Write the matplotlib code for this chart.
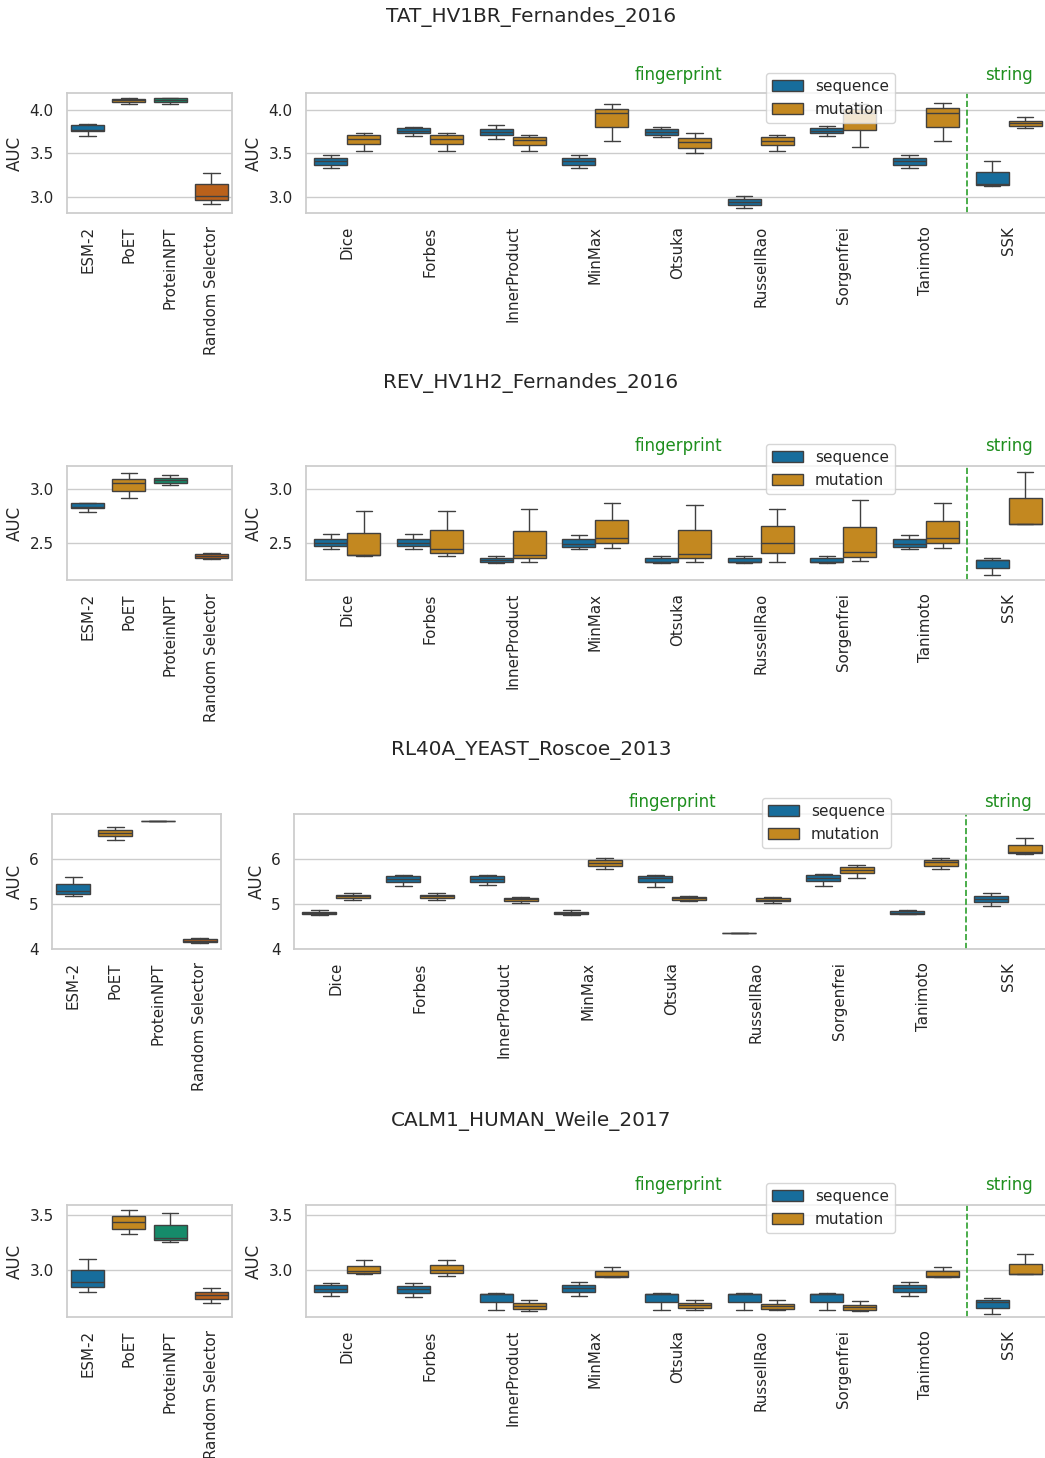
import matplotlib
matplotlib.use('Agg')
import matplotlib.pyplot as plt
import matplotlib.transforms as mtransforms
from matplotlib.patches import Patch
import seaborn as sns

# ---------------------------------------------------------------- data
# every box is [whisker low, q1, median, q3, whisker high]
baselines = ["ESM-2", "PoET", "ProteinNPT", "Random Selector"]
metrics = ["Dice", "Forbes", "InnerProduct", "MinMax", "Otsuka",
           "RussellRao", "Sorgenfrei", "Tanimoto", "SSK"]
titles = ["TAT_HV1BR_Fernandes_2016", "REV_HV1H2_Fernandes_2016",
          "RL40A_YEAST_Roscoe_2013", "CALM1_HUMAN_Weile_2017"]

tat_base = [[3.704, 3.762, 3.770, 3.831, 3.835],
            [4.069, 4.088, 4.110, 4.131, 4.135],
            [4.065, 4.088, 4.115, 4.135, 4.142],
            [2.915, 2.962, 3.004, 3.142, 3.277]]
tat_seq = [[3.331, 3.365, 3.408, 3.450, 3.485],
           [3.696, 3.731, 3.762, 3.788, 3.808],
           [3.669, 3.708, 3.750, 3.785, 3.827],
           [3.331, 3.365, 3.408, 3.450, 3.485],
           [3.685, 3.715, 3.750, 3.777, 3.800],
           [2.869, 2.900, 2.942, 2.977, 3.004],
           [3.700, 3.731, 3.762, 3.788, 3.812],
           [3.331, 3.365, 3.408, 3.450, 3.485],
           [3.127, 3.135, 3.142, 3.281, 3.415]]
tat_mut = [[3.527, 3.604, 3.669, 3.708, 3.738],
           [3.527, 3.604, 3.669, 3.708, 3.738],
           [3.527, 3.592, 3.658, 3.688, 3.715],
           [3.646, 3.800, 3.962, 4.015, 4.073],
           [3.508, 3.565, 3.627, 3.681, 3.738],
           [3.527, 3.596, 3.646, 3.692, 3.715],
           [3.569, 3.765, 3.960, 4.015, 4.073],
           [3.646, 3.800, 3.965, 4.019, 4.077],
           [3.792, 3.812, 3.846, 3.877, 3.915]]

rev_base = [[2.788, 2.825, 2.830, 2.868, 2.871],
            [2.914, 2.982, 3.049, 3.092, 3.144],
            [3.037, 3.055, 3.077, 3.101, 3.126],
            [2.350, 2.362, 2.377, 2.396, 2.411]]
rev_seq = [[2.445, 2.469, 2.500, 2.540, 2.583],
           [2.445, 2.469, 2.500, 2.540, 2.583],
           [2.316, 2.328, 2.340, 2.362, 2.383],
           [2.442, 2.463, 2.494, 2.534, 2.577],
           [2.319, 2.325, 2.330, 2.365, 2.383],
           [2.319, 2.325, 2.330, 2.365, 2.383],
           [2.319, 2.325, 2.330, 2.365, 2.383],
           [2.445, 2.463, 2.494, 2.534, 2.577],
           [2.206, 2.270, 2.340, 2.347, 2.362]]
rev_mut = [[2.385, 2.387, 2.390, 2.595, 2.798],
           [2.383, 2.411, 2.448, 2.623, 2.798],
           [2.328, 2.359, 2.393, 2.607, 2.816],
           [2.454, 2.500, 2.549, 2.709, 2.868],
           [2.325, 2.362, 2.402, 2.623, 2.850],
           [2.325, 2.411, 2.497, 2.656, 2.816],
           [2.334, 2.371, 2.414, 2.650, 2.896],
           [2.454, 2.500, 2.549, 2.706, 2.868],
           [2.675, 2.675, 2.675, 2.917, 3.156]]

rl40_base = [[5.170, 5.222, 5.289, 5.437, 5.593],
             [6.422, 6.496, 6.570, 6.637, 6.696],
             [6.830, 6.830, 6.830, 6.830, 6.830],
             [4.126, 4.148, 4.178, 4.215, 4.244]]
rl40_seq = [[4.748, 4.763, 4.793, 4.822, 4.852],
            [5.385, 5.481, 5.556, 5.615, 5.637],
            [5.407, 5.481, 5.548, 5.607, 5.644],
            [4.748, 4.763, 4.793, 4.822, 4.852],
            [5.378, 5.481, 5.560, 5.615, 5.637],
            [4.341, 4.341, 4.341, 4.341, 4.341],
            [5.400, 5.496, 5.563, 5.630, 5.659],
            [4.763, 4.770, 4.800, 4.830, 4.859],
            [4.956, 5.030, 5.104, 5.178, 5.237]]
rl40_mut = [[5.089, 5.119, 5.163, 5.200, 5.230],
            [5.089, 5.119, 5.163, 5.200, 5.230],
            [5.015, 5.059, 5.096, 5.126, 5.140],
            [5.778, 5.844, 5.904, 5.970, 6.015],
            [5.059, 5.089, 5.119, 5.148, 5.163],
            [5.015, 5.052, 5.089, 5.126, 5.148],
            [5.578, 5.674, 5.756, 5.822, 5.859],
            [5.778, 5.844, 5.919, 5.978, 6.015],
            [6.111, 6.133, 6.148, 6.304, 6.459]]

calm_base = [[2.805, 2.847, 2.892, 3.003, 3.105],
             [3.326, 3.377, 3.434, 3.488, 3.542],
             [3.260, 3.275, 3.296, 3.410, 3.518],
             [2.704, 2.740, 2.775, 2.808, 2.844]]
calm_seq = [[2.772, 2.802, 2.835, 2.865, 2.889],
            [2.763, 2.793, 2.829, 2.862, 2.889],
            [2.644, 2.713, 2.787, 2.790, 2.799],
            [2.772, 2.802, 2.838, 2.865, 2.892],
            [2.644, 2.713, 2.787, 2.790, 2.799],
            [2.644, 2.713, 2.787, 2.790, 2.799],
            [2.644, 2.713, 2.787, 2.790, 2.799],
            [2.769, 2.802, 2.844, 2.868, 2.892],
            [2.602, 2.659, 2.713, 2.734, 2.754]]
calm_mut = [[2.967, 2.976, 2.994, 3.042, 3.096],
            [2.949, 2.973, 3.003, 3.045, 3.096],
            [2.635, 2.650, 2.674, 2.701, 2.731],
            [2.940, 2.943, 2.949, 2.994, 3.033],
            [2.641, 2.659, 2.683, 2.704, 2.728],
            [2.641, 2.650, 2.674, 2.698, 2.734],
            [2.632, 2.641, 2.665, 2.689, 2.725],
            [2.940, 2.943, 2.952, 2.994, 3.033],
            [2.964, 2.964, 2.967, 3.057, 3.150]]

base_data = [tat_base, rev_base, rl40_base, calm_base]
seq_data = [tat_seq, rev_seq, rl40_seq, calm_seq]
mut_data = [tat_mut, rev_mut, rl40_mut, calm_mut]

y_limits = [(2.81, 4.196), (2.16, 3.209), (3.99, 6.99), (2.578, 3.59)]
y_ticks = [[3.0, 3.5, 4.0], [2.5, 3.0], [4, 5, 6], [3.0, 3.5]]

# ---------------------------------------------------------------- layout (pixels)
W, H = 1045, 1458
row_top = [93, 466, 814, 1205]
row_bot = [213, 580, 949, 1317]
left_x0 = [67, 67, 52, 67]
left_x1 = [232, 232, 221, 232]
right_x0 = [306, 306, 294, 306]
right_x1 = 1050
title_y = [17, 383, 750, 1121]
group_y = [75, 446, 802, 1185]
legend_xy = [(766, 73), (766, 444), (762, 798), (766, 1183)]


def px_rect(x0, y0, x1, y1):
    return [x0 / W, 1 - y1 / H, (x1 - x0) / W, (y1 - y0) / H]


sns.set_theme(style="whitegrid")
plt.rcParams['font.family'] = ['DejaVu Sans']
plt.rcParams['xtick.labelsize'] = 10.8
pal = sns.color_palette("colorblind")
c_blue, c_orange, c_green, c_red = [sns.desaturate(c, 0.75) for c in pal[:4]]
base_colors = [c_blue, c_orange, c_green, c_red]
lc = (0.25, 0.25, 0.25)
grp_color = "#1f8f1f"

fig = plt.figure(figsize=(W / 100, H / 100), dpi=100)


def draw_boxes(ax, boxes, positions, width, colors):
    stats = [dict(whislo=b[0], q1=b[1], med=b[2], q3=b[3], whishi=b[4], fliers=[])
             for b in boxes]
    art = ax.bxp(stats, positions=positions, widths=width, capwidths=width / 2,
                 patch_artist=True, showfliers=False, manage_ticks=False,
                 boxprops=dict(edgecolor=lc, linewidth=1.0),
                 medianprops=dict(color=lc, linewidth=1.0),
                 whiskerprops=dict(color=lc, linewidth=1.0),
                 capprops=dict(color=lc, linewidth=1.0))
    for patch, col in zip(art["boxes"], colors):
        patch.set_facecolor(col)


for r in range(4):
    # baselines on the left
    axl = fig.add_axes(px_rect(left_x0[r], row_top[r], left_x1[r], row_bot[r]))
    draw_boxes(axl, base_data[r], list(range(len(baselines))), 0.8, base_colors)
    axl.set_xlim(-0.5, len(baselines) - 0.5)
    axl.set_xticks(range(len(baselines)))
    axl.set_xticklabels(baselines, rotation=90)
    axl.set_ylim(*y_limits[r])
    axl.set_yticks(y_ticks[r])
    axl.set_ylabel("AUC")
    axl.xaxis.grid(False)

    # similarity metrics on the right
    axr = fig.add_axes(px_rect(right_x0[r], row_top[r], right_x1, row_bot[r]))
    n = len(metrics)
    draw_boxes(axr, seq_data[r], [i - 0.2 for i in range(n)], 0.4, [c_blue] * n)
    draw_boxes(axr, mut_data[r], [i + 0.2 for i in range(n)], 0.4, [c_orange] * n)
    axr.set_xlim(-0.5, n - 0.5)
    axr.set_xticks(range(n))
    axr.set_xticklabels(metrics, rotation=90)
    axr.set_ylim(*y_limits[r])
    axr.set_yticks(y_ticks[r])
    axr.set_ylabel("AUC")
    axr.xaxis.grid(False)

    axr.axvline(n - 1.5, color="tab:green", linestyle="--", linewidth=1.2)
    trans = mtransforms.blended_transform_factory(axr.transData, axr.transAxes)
    frac = (row_bot[r] - group_y[r]) / (row_bot[r] - row_top[r])
    axr.text(4, frac, "fingerprint", color=grp_color, fontsize=12,
             ha="center", va="center", transform=trans)
    axr.text(n - 1, frac, "string", color=grp_color, fontsize=12,
             ha="center", va="center", transform=trans)

    handles = [Patch(facecolor=c_blue, edgecolor=lc, label="sequence"),
               Patch(facecolor=c_orange, edgecolor=lc, label="mutation")]
    lx, ly = legend_xy[r]
    axr.legend(handles=handles, loc="upper left",
               bbox_to_anchor=(lx / W, 1 - ly / H),
               bbox_transform=fig.transFigure, borderaxespad=0)

    fig.text(531 / W, 1 - title_y[r] / H, titles[r], ha="center", va="center",
             fontsize=14.4)

fig.savefig("out.png", dpi=100)
